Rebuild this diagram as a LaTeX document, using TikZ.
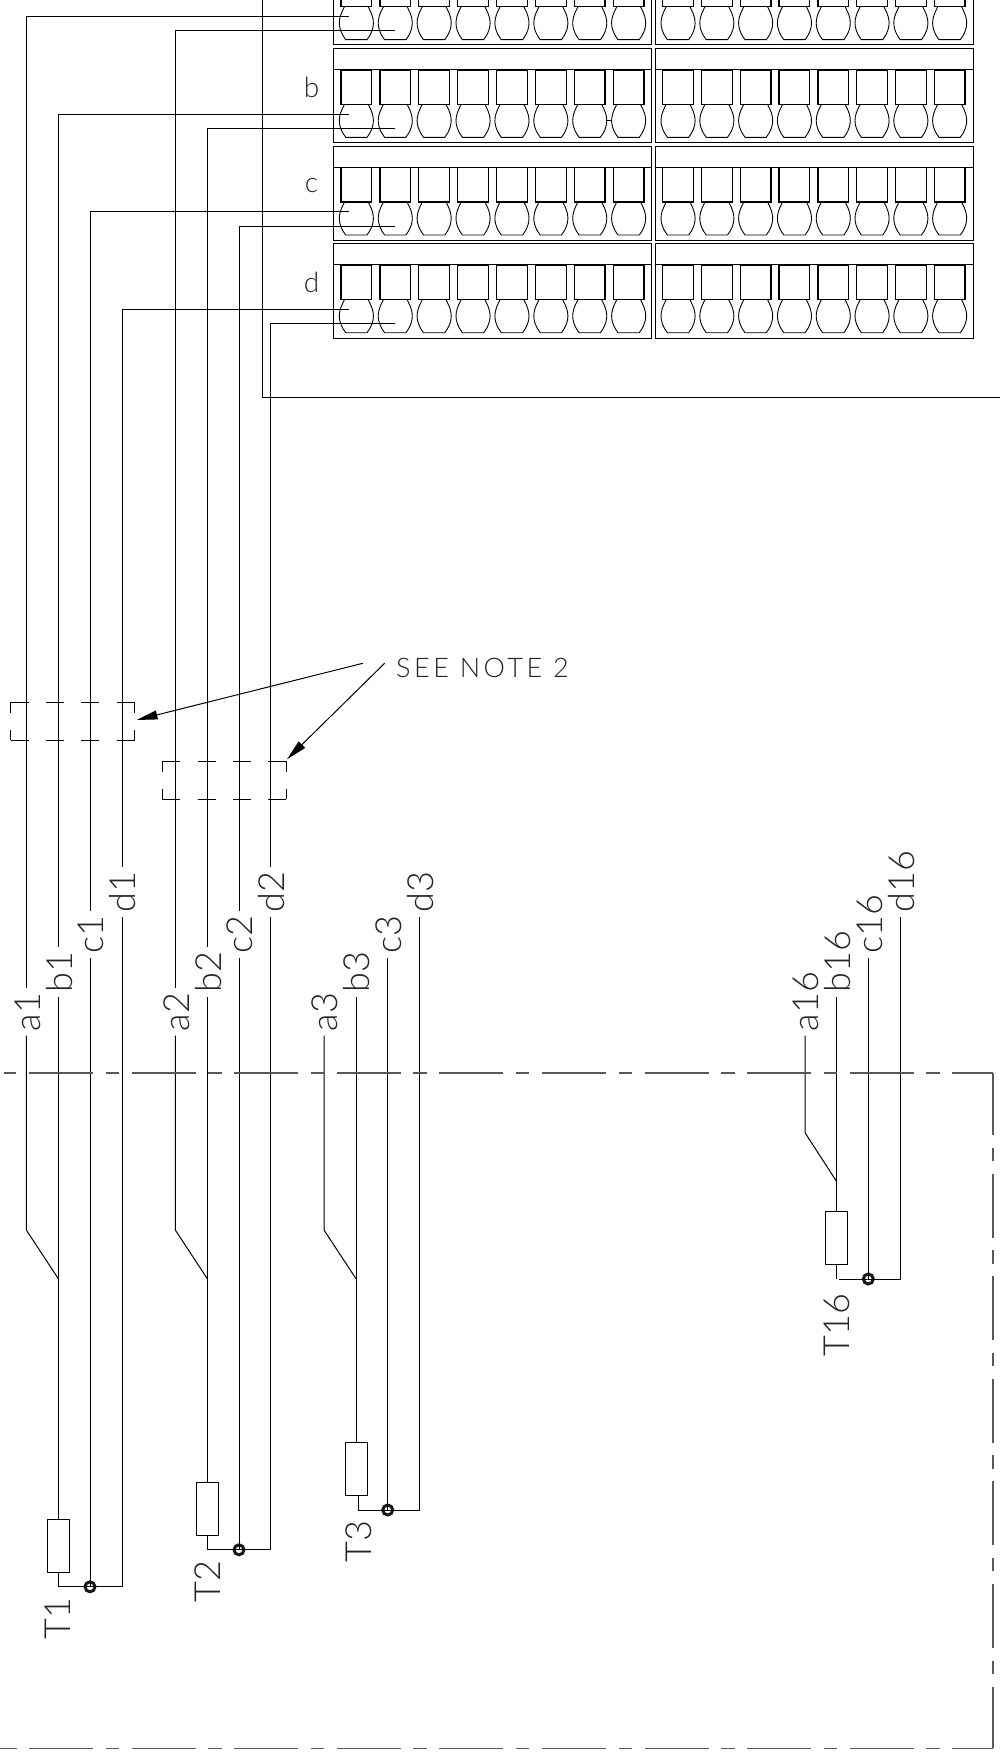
\documentclass[tikz,border=0pt]{standalone}
\usepackage{fontspec}
\newfontfamily\cadfont{Lato Light}
\usetikzlibrary{arrows.meta}
\tikzset{
  wire/.style={line width=1pt,black},
  cline/.style={line width=1.6pt,black!65,dash pattern=on 64pt off 12.6pt on 13.4pt off 12.6pt,dash phase=#1},
  wirelbl/.style={rotate=90,anchor=base west,inner sep=0pt,outer sep=4.5pt,font=\cadfont\fontsize{36}{36}\selectfont,black!85},
  rowlbl/.style={anchor=base,inner sep=0pt,font=\cadfont\fontsize{28}{28}\selectfont,black!85},
  res/.style={draw,line width=1pt,black,rectangle,inner sep=0pt,outer sep=0pt,minimum width=22pt,minimum height=53pt},
  jdot/.style={draw,circle,line width=3pt,black!90,inner sep=0pt,outer sep=0pt,minimum size=10pt},
  termcell/.pic={
    \draw[line width=1.3pt] (0,0) rectangle (30.7,-34.3);
    \draw[line width=0.9pt] (3.5,0) -- (2,3) .. controls (0,7) and (-1.7,11.5) .. (-1.7,16.4)
      .. controls (-1.7,21) and (0,25.5) .. (2,29) -- (4.7,33) -- (26,33) -- (28.7,29)
      .. controls (30.7,25.5) and (32.4,21) .. (32.4,16.4) .. controls (32.4,11.5) and (30.7,7) .. (28.7,3) -- (27.2,0);
  }
}
\begin{document}
\begin{tikzpicture}[x=1pt,y=-1pt]
\clip (0,0) rectangle (1000,1753);
\foreach \ytop in {-49.4,48.3,146,243.6}{
  \draw[wire] (333,\ytop) rectangle (651.7,\ytop+94.4);
  \draw[wire] (655,\ytop) rectangle (973.3,\ytop+94.4);
  \draw[wire] (333,\ytop+21) -- (651.7,\ytop+21);
  \draw[wire] (655,\ytop+21) -- (973.3,\ytop+21);
}
\foreach \ycell in {6.7,104.3,202,299.7}{
  \foreach \i in {0,...,7}{
    \pic at ({341+38.9*\i},\ycell) {termcell};
    \pic at ({662.7+38.8*\i},\ycell) {termcell};
  }
}
\draw[wire] (606,120) -- (611.7,120);
\node[rowlbl] (rowb) at (311.5,97.7) {b};
\node[rowlbl] (rowc) at (311.5,192.3) {c};
\node[rowlbl] (rowd) at (311.5,292.7) {d};
\foreach \g/\xa/\xb/\xc/\xd/\yk/\yj/\yres/\yrail in {
  1/26.3/58.3/90/122/1230/1278.7/1546.2/1586.8,
  2/175.3/207.3/239/270.7/1230/1278.7/1508.8/1549.8,
  3/324/356/387.7/419.7/1230/1278.7/1469/1510,
  16/805/836.3/868.3/900.3/1132.7/1181/1237.8/1279}{
  \node[wirelbl] (a\g) at (\xa+13.7,1035.5) {a\g};
  \node[wirelbl] (b\g) at (\xb+13.7,996.7) {b\g};
  \node[wirelbl] (c\g) at (\xc+13.7,958) {c\g};
  \node[wirelbl] (d\g) at (\xd+13.7,917) {d\g};
  \node[res] (r\g) at (\xb,\yres) {};
  \node[jdot] (dot\g) at (\xc,\yrail) {};
  \draw[wire] (\xa,0 |- a\g.west) -- (\xa,\yk) -- (\xb,\yj);
  \draw[wire] (\xb,0 |- b\g.west) -- (r\g.north);
  \draw[wire] (\xc,0 |- c\g.west) -- (dot\g.center);
  \draw[wire] (\xd,0 |- d\g.west) |- (dot\g.center);
}
\foreach \row/\ya/\yb/\xo/\xt in {a/16.7/30.3/26.3/175.3,b/114.3/128.3/58.3/207.3,c/211.7/226/90/239,d/309.7/323.3/122/270.7}{
  \coordinate (\row1t) at (349,\ya);
  \coordinate (\row2t) at (395.3,\yb);
  \draw[wire] (\row1t) -| (\xo,0 |- \row1.east);
  \draw[wire] (\row2t) -| (\xt,0 |- \row2.east);
}
\draw[wire] (r1.south) |- (dot1.center);
\draw[wire] (r2.south) |- (dot2.center);
\draw[wire] (358.7,1495.5) |- (dot3.center);
\draw[wire] (r16.south) -- (836.3,1279);
\draw[wire] (839,1279) -- (dot16.center);
\draw[wire] (262.7,-2) -- (262.7,397.3) -- (1002,397.3);
\node[wirelbl,outer sep=0pt] (t1) at (70,1639) {T1};
\node[wirelbl,outer sep=0pt] (t2) at (220,1602) {T2};
\node[wirelbl,outer sep=0pt] (t3) at (371,1562) {T3};
\node[wirelbl,outer sep=0pt] (t16) at (849,1356) {T16};
\foreach \n/\xl/\yt in {1/10.7/702.3,2/162.3/761.3}{
  \draw[wire,line width=0.9pt,dash pattern=on 18pt off 17.33pt] (\xl,\yt) -- (\xl+124,\yt);
  \draw[wire,line width=0.9pt,dash pattern=on 18pt off 17.33pt] (\xl,\yt+37.7) -- (\xl+124,\yt+37.7);
  \draw[wire,line width=0.9pt,dash pattern=on 10.5pt off 16.7pt] (\xl,\yt) -- (\xl,\yt+37.7);
  \draw[wire,line width=0.9pt,dash pattern=on 10.5pt off 16.7pt] (\xl+124,\yt) -- (\xl+124,\yt+37.7);
}
\node[anchor=base west,inner sep=0pt,font=\cadfont\fontsize{27}{27}\selectfont\addfontfeature{LetterSpace=13},black!85] (note) at (396,677.7) {SEE NOTE 2};
\coordinate (tie1) at (136.6,720);
\coordinate (tie2) at (287,759.3);
\draw[wire,-{Stealth[length=21pt,width=9pt,inset=0pt]}] (362.8,663.3) -- (tie1);
\draw[wire,-{Stealth[length=21pt,width=9pt,inset=0pt]}] (384.6,663.3) -- (tie2);
\draw[cline=23.4pt] (992.9,1072.7) -- (4,1072.7);
\draw[cline=1.7pt] (992.9,1072.7) -- (992.9,1748.4);
\draw[cline=23.4pt] (992.9,1748.4) -- (24,1748.4);
\draw[line width=1.6pt,black!65] (0,1748.4) -- (17.3,1748.4);
\end{tikzpicture}
\end{document}
